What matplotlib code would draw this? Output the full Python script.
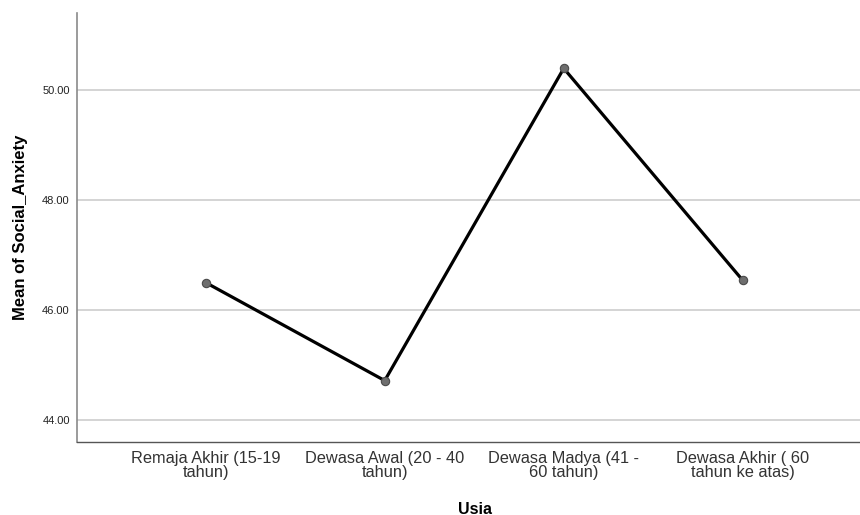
import matplotlib
matplotlib.use("Agg")
import matplotlib.pyplot as plt

categories = ["Remaja Akhir (15-19\ntahun)", "Dewasa Awal (20 - 40\ntahun)",
              "Dewasa Madya (41 -\n60 tahun)", "Dewasa Akhir ( 60\ntahun ke atas)"]
means = [46.50, 44.72, 50.39, 46.54]
yticks = [44.0, 46.0, 48.0, 50.0]

plt.rcParams['font.family'] = ['Liberation Sans', 'DejaVu Sans']

fig = plt.figure(figsize=(8.6, 5.15), dpi=100)
ax = fig.add_axes([0.0892, 0.1423, 0.9108, 0.8319])

x = list(range(len(categories)))
ax.plot(x, means, color='black', linewidth=2.3, zorder=3,
        marker='o', markersize=6, markerfacecolor='#6e6e6e',
        markeredgecolor='#4a4a4a', markeredgewidth=0.8)

ax.set_xlim(-0.7207, 3.655)
ax.set_ylim(43.61, 51.39)
ax.set_yticks(yticks)
ax.set_yticklabels([f"{v:.2f}" for v in yticks], fontsize=8, color='#222222')
ax.set_xticks(x)
ax.set_xticklabels(categories, fontsize=11.8, color='#333333', linespacing=0.9)
ax.tick_params(axis='both', length=0)
ax.tick_params(axis='y', pad=5)
ax.tick_params(axis='x', pad=7)

ax.grid(axis='y', color='#d4d4d4', linewidth=1.4, zorder=0)
ax.set_axisbelow(True)

for s in ['top', 'right']:
    ax.spines[s].set_visible(False)
ax.spines['left'].set_color('#8a8a8a')
ax.spines['left'].set_linewidth(1.2)
ax.spines['bottom'].set_color('#555555')
ax.spines['bottom'].set_linewidth(1.0)

ax.set_ylabel("Mean of Social_Anxiety", fontsize=12, fontweight='bold')
ax.set_xlabel("Usia", fontsize=11.5, fontweight='bold')
ax.xaxis.set_label_coords((474.5 - 76.7) / (860 - 76.7), -0.14)
ax.yaxis.set_label_coords(-(76.7 - 28) / (860 - 76.7), 0.5)

fig.savefig("out.png", dpi=100)
